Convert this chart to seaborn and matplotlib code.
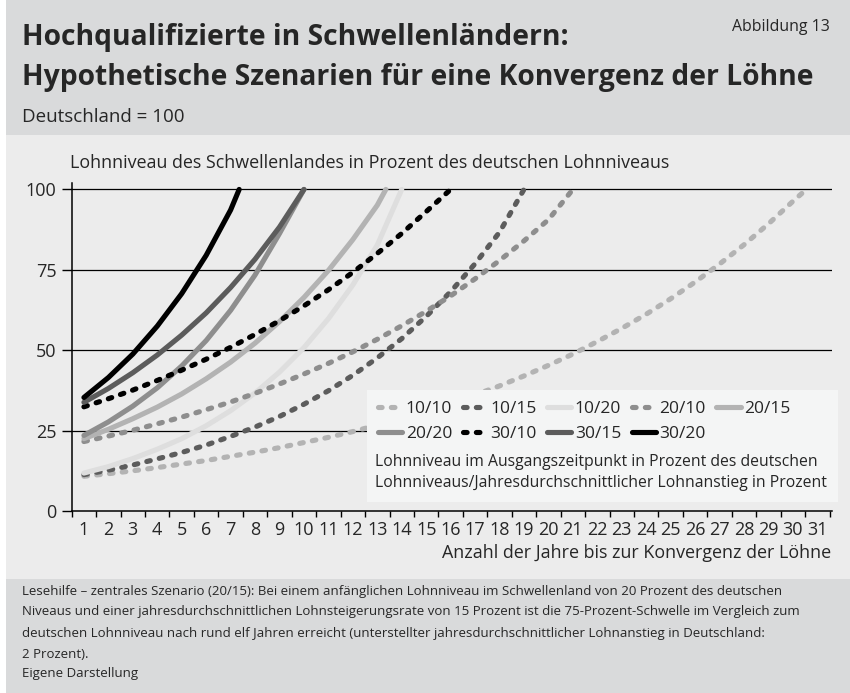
import matplotlib
matplotlib.use("Agg")
import matplotlib.pyplot as plt
import seaborn as sns
import pandas as pd
from matplotlib.patches import Rectangle

sns.set_theme(style="white")
plt.rcParams['font.family'] = ['Open Sans', 'DejaVu Sans']

# ---------------- data (years until convergence, wage level in % of German level)
years_10_10 = [1, 2, 3, 4, 5, 6, 7, 8, 9, 10, 11, 12, 13, 14, 15, 16, 17, 18, 19, 20,
               21, 22, 23, 24, 25, 26, 27, 28, 29, 30, 30.55]
level_10_10 = [10.8, 11.6, 12.5, 13.5, 14.6, 15.7, 17.0, 18.3, 19.7, 21.3, 22.9, 24.7,
               26.7, 28.8, 31.0, 33.5, 36.1, 38.9, 42.0, 45.3, 48.8, 52.7, 56.8, 61.2,
               66.0, 71.2, 76.8, 82.8, 89.3, 96.3, 100]
years_10_15 = [1, 2, 3, 4, 5, 6, 7, 8, 9, 10, 11, 12, 13, 14, 15, 16, 17, 18, 19]
level_10_15 = [11.3, 12.7, 14.3, 16.2, 18.2, 20.5, 23.2, 26.1, 29.4, 33.2, 37.4, 42.2,
               47.6, 53.6, 60.5, 68.2, 76.9, 86.7, 100]
years_10_20 = [1, 2, 3, 4, 5, 6, 7, 8, 9, 10, 11, 12, 13, 14]
level_10_20 = [11.8, 13.8, 16.3, 19.2, 22.5, 26.5, 31.2, 36.7, 43.2, 50.8, 59.8, 70.3,
               82.7, 100]
years_20_10 = [1, 2, 3, 4, 5, 6, 7, 8, 9, 10, 11, 12, 13, 14, 15, 16, 17, 18, 19, 20, 21]
level_20_10 = [21.6, 23.3, 25.1, 27.1, 29.2, 31.5, 33.9, 36.6, 39.5, 42.6, 45.9, 49.5,
               53.4, 57.6, 62.1, 66.9, 72.2, 77.9, 84.0, 90.6, 100]
years_20_15 = [1, 2, 3, 4, 5, 6, 7, 8, 9, 10, 11, 12, 13, 13.35]
level_20_15 = [22.5, 25.4, 28.7, 32.3, 36.4, 41.1, 46.3, 52.2, 58.9, 66.4, 74.8, 84.4,
               95.1, 100]
years_20_20 = [1, 2, 3, 4, 5, 6, 7, 8, 9, 10]
level_20_20 = [23.5, 27.7, 32.6, 38.3, 45.1, 53.0, 62.4, 73.4, 86.3, 100]
years_30_10 = [1, 2, 3, 4, 5, 6, 7, 8, 9, 10, 11, 12, 13, 14, 15, 16]
level_30_10 = [32.4, 34.9, 37.6, 40.6, 43.8, 47.2, 50.9, 54.9, 59.2, 63.8, 68.8, 74.2,
               80.1, 86.3, 93.1, 100]
years_30_15 = [1, 2, 3, 4, 5, 6, 7, 8, 9, 10]
level_30_15 = [33.8, 38.1, 43.0, 48.5, 54.7, 61.6, 69.5, 78.3, 88.3, 100]
years_30_20 = [1, 2, 3, 4, 5, 6, 7, 7.35]
level_30_20 = [35.3, 41.5, 48.8, 57.5, 67.6, 79.5, 93.6, 100]

scenario_names = ["10/10", "10/15", "10/20", "20/10", "20/15", "20/20", "30/10", "30/15", "30/20"]
scenario_years = [years_10_10, years_10_15, years_10_20, years_20_10, years_20_15,
                  years_20_20, years_30_10, years_30_15, years_30_20]
scenario_levels = [level_10_10, level_10_15, level_10_20, level_20_10, level_20_15,
                   level_20_20, level_30_10, level_30_15, level_30_20]

x_tick_labels = [str(i) for i in range(1, 32)]
y_ticks = [0, 25, 50, 75, 100]

# ---------------- styles
colors = ["#b3b3b3", "#5c5c5c", "#dedede", "#8e8e8e", "#b3b3b3",
          "#8e8e8e", "#000000", "#5c5c5c", "#000000"]
dashed = [True, True, False, True, False, False, True, False, False]
dash_style = (0, (0.7, 1.8))

W, H = 850, 693
fig = plt.figure(figsize=(W / 100, H / 100), dpi=100)
fig.patch.set_facecolor("white")

def fx(px):
    return px / W

def fy(py):
    return 1 - py / H

# background bands
fig.add_artist(Rectangle((fx(6), fy(135)), fx(844), 135 / H, transform=fig.transFigure,
                         facecolor="#d9dadb", edgecolor="none", zorder=-3))
fig.add_artist(Rectangle((fx(6), fy(579)), fx(844), (579 - 135) / H, transform=fig.transFigure,
                         facecolor="#ececec", edgecolor="none", zorder=-3))
fig.add_artist(Rectangle((fx(6), 0), fx(844), (H - 579) / H, transform=fig.transFigure,
                         facecolor="#d9dadb", edgecolor="none", zorder=-3))

ax_left, ax_right, ax_top, ax_bottom = 71.7, 832, 183, 511
ax = fig.add_axes([fx(ax_left), fy(ax_bottom), fx(ax_right - ax_left), (ax_bottom - ax_top) / H])
ax.set_facecolor("none")

rows = []
for name, yrs, lv in zip(scenario_names, scenario_years, scenario_levels):
    for x, y in zip(yrs, lv):
        rows.append({"scenario": name, "year": x, "level": y})
df = pd.DataFrame(rows)

for name, c, d in zip(scenario_names, colors, dashed):
    sub = df[df["scenario"] == name]
    kw = dict(linestyle=dash_style, dash_capstyle="round") if d else dict(solid_capstyle="round")
    sns.lineplot(data=sub, x="year", y="level", ax=ax, color=c, linewidth=3.7,
                 label=name, sort=False, estimator=None, legend=False, zorder=3, **kw)

ax.set_xlim(0.5, 31.6)
ax.set_ylim(0, 102)
for s in ["top", "right"]:
    ax.spines[s].set_visible(False)
for s in ["left", "bottom"]:
    ax.spines[s].set_color("black")
    ax.spines[s].set_linewidth(1.1)

# gridlines
for yv in y_ticks[1:]:
    ax.axhline(yv, color="black", linewidth=0.9, zorder=1)

ax.set_yticks(y_ticks)
ax.set_yticklabels([str(v) for v in y_ticks])
ax.tick_params(axis="y", which="major", direction="out", length=7, width=1.0,
               color="black", pad=4, labelsize=13, left=True)

ax.set_xticks([i + 0.5 for i in range(0, 32)])
ax.set_xticklabels([])
ax.set_xticks(list(range(1, 32)), minor=True)
ax.set_xticklabels(x_tick_labels, minor=True)
ax.tick_params(axis="x", which="major", direction="out", length=4.5, width=1.0,
               color="black", bottom=True)
ax.tick_params(axis="x", which="minor", length=0, pad=7, labelsize=13, bottom=True)
ax.set_xlabel("")
ax.set_ylabel("")

# legend box (covers lines)
fig.add_artist(Rectangle((fx(367), fy(502)), fx(838 - 367), (502 - 390) / H,
                         transform=fig.transFigure, facecolor="#f4f5f5",
                         edgecolor="none", zorder=1))

handles, labels = ax.get_legend_handles_labels()
hmap = dict(zip(labels, handles))
order = ["10/10", "20/20", "10/15", "30/10", "10/20", "30/15", "20/10", "30/20", "20/15"]
leg = fig.legend([hmap[k] for k in order], order, loc="upper left",
                 bbox_to_anchor=(fx(378), fy(401)), ncol=5, frameon=False,
                 fontsize=12.5, handlelength=1.4, handletextpad=0.2,
                 columnspacing=0.6, labelspacing=0.48, borderpad=0, borderaxespad=0)
leg.set_zorder(6)

fig.text(fx(375), fy(462), "Lohnniveau im Ausgangszeitpunkt in Prozent des deutschen",
         fontsize=11.3, va="center", ha="left", zorder=6)
fig.text(fx(375), fy(483), "Lohnniveaus/Jahresdurchschnittlicher Lohnanstieg in Prozent",
         fontsize=11.3, va="center", ha="left", zorder=6)

# titles and annotations
fig.text(fx(22), fy(45), "Hochqualifizierte in Schwellenländern:", fontsize=20.3,
         fontweight="bold", va="baseline", ha="left")
fig.text(fx(22), fy(85), "Hypothetische Szenarien für eine Konvergenz der Löhne", fontsize=20.3,
         fontweight="bold", va="baseline", ha="left")
fig.text(fx(830), fy(27), "Abbildung 13", fontsize=11.4, va="center", ha="right")
fig.text(fx(22), fy(117), "Deutschland = 100", fontsize=13.5, va="center", ha="left")

fig.text(fx(70), fy(163), "Lohnniveau des Schwellenlandes in Prozent des deutschen Lohnniveaus",
         fontsize=12.9, va="center", ha="left")
fig.text(fx(831), fy(553), "Anzahl der Jahre bis zur Konvergenz der Löhne",
         fontsize=12.9, va="center", ha="right")

footer = [
    "Lesehilfe – zentrales Szenario (20/15): Bei einem anfänglichen Lohnniveau im Schwellenland von 20 Prozent des deutschen",
    "Niveaus und einer jahresdurchschnittlichen Lohnsteigerungsrate von 15 Prozent ist die 75-Prozent-Schwelle im Vergleich zum",
    "deutschen Lohnniveau nach rund elf Jahren erreicht (unterstellter jahresdurchschnittlicher Lohnanstieg in Deutschland:",
    "2 Prozent).",
    "Eigene Darstellung",
]
footer_y = [591, 612, 633, 654, 674]
for t, yy in zip(footer, footer_y):
    fig.text(fx(22), fy(yy), t, fontsize=9.5, va="center", ha="left")

fig.savefig("out.png", dpi=100)
